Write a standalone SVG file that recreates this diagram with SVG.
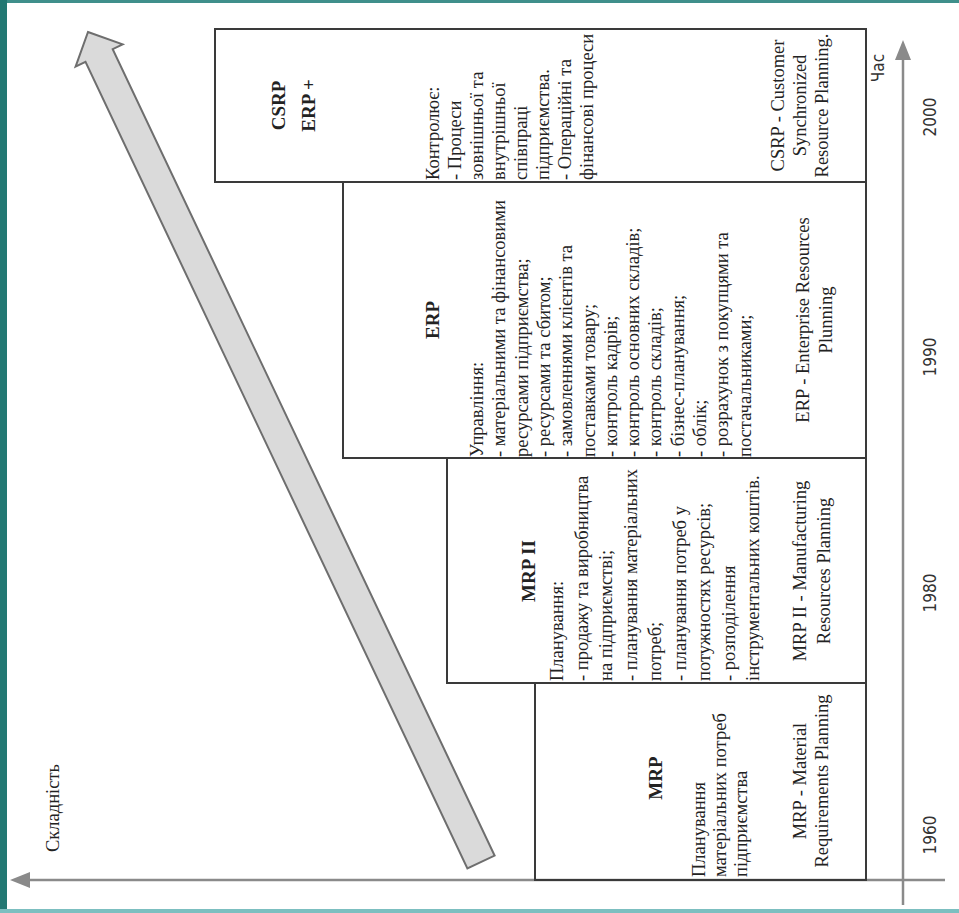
<svg xmlns="http://www.w3.org/2000/svg" width="959" height="913" viewBox="0 0 959 913">
<style>
.t{font-family:"Liberation Serif","Times New Roman",serif;font-size:18.5px;fill:#222}
.b{font-weight:bold;font-size:19px}
.m{text-anchor:middle}
.s{font-family:"Liberation Sans Narrow","DejaVu Sans Condensed","Liberation Sans",sans-serif;font-size:17px;fill:#333}
.box{fill:none;stroke:#3a3a3a;stroke-width:2}
.ax{stroke:#8a8a8a;stroke-width:2.5;fill:none}
.ah{fill:#8a8a8a}
</style>
<rect width="959" height="913" fill="#fff"/>
<rect x="0" y="0" width="959" height="3" fill="#3f8f8b"/>
<rect x="0" y="0" width="7" height="913" fill="#227873"/>
<rect x="0" y="909" width="959" height="4" fill="#7cbfc0"/>

<g id="complexity-arrow">
<polygon points="88,32 122.6,44.4 112.7,49.1 494.6,855.6 467.4,868.4 85.5,61.9 75.6,66.6" fill="#dadada" stroke="#6e6e6e" stroke-width="2" stroke-linejoin="miter"/>
</g>

<g id="connectors">
<line class="ax" x1="903" y1="905" x2="903" y2="56"/>
<polygon class="ah" points="903,40 895,60 911,60"/>
<line class="ax" x1="945" y1="880" x2="26" y2="880"/>
<polygon class="ah" points="10,880 30,872 30,888"/>
</g>

<g id="csrp">
<rect class="box" x="215" y="29" width="651" height="153"/>
<g transform="rotate(-90)">
<text class="t b m" x="-105.5" y="285">CSRP</text>
<text class="t b m" x="-105.5" y="315">ERP +</text>
<text class="t" x="-180" y="439">Контролює:</text>
<text class="t" x="-180" y="461">- Процеси</text>
<text class="t" x="-180" y="483">зовнішньої та</text>
<text class="t" x="-180" y="505">внутрішньої</text>
<text class="t" x="-180" y="527">співпраці</text>
<text class="t" x="-180" y="549">підприємства.</text>
<text class="t" x="-180" y="571">- Операційні та</text>
<text class="t" x="-180" y="593">фінансові процеси</text>
<text class="t m" x="-105.5" y="784">CSRP - Customer</text>
<text class="t m" x="-105.5" y="806">Synchronized</text>
<text class="t m" x="-105.5" y="828">Resource Planning.</text>
</g>
</g>

<g id="erp">
<rect class="box" x="343" y="182" width="523" height="276"/>
<g transform="rotate(-90)">
<text class="t b m" x="-320" y="439">ERP</text>
<text class="t" x="-457" y="483">Управління:</text>
<text class="t" x="-457" y="505.3">- матеріальними та фінансовими</text>
<text class="t" x="-457" y="527.6">ресурсами підприємства;</text>
<text class="t" x="-457" y="549.9">- ресурсами та сбитом;</text>
<text class="t" x="-457" y="572.2">- замовленнями клієнтів та</text>
<text class="t" x="-457" y="594.5">поставками товару;</text>
<text class="t" x="-457" y="616.8">- контроль кадрів;</text>
<text class="t" x="-457" y="639.1">- контроль основних складів;</text>
<text class="t" x="-457" y="661.4">- контроль складів;</text>
<text class="t" x="-457" y="683.7">- бізнес-планування;</text>
<text class="t" x="-457" y="706">- облік;</text>
<text class="t" x="-457" y="728.3">- розрахунок з покупцями та</text>
<text class="t" x="-457" y="750.6">постачальниками;</text>
<text class="t m" x="-320" y="809">ERP - Enterprise Resources</text>
<text class="t m" x="-320" y="832">Plunning</text>
</g>
</g>

<g id="mrp2">
<rect class="box" x="447" y="458" width="419" height="225"/>
<g transform="rotate(-90)">
<text class="t b m" x="-571" y="535">MRP II</text>
<text class="t" x="-681" y="563">Планування:</text>
<text class="t" x="-681" y="587.5">- продажу та виробництва</text>
<text class="t" x="-681" y="612">на підприємстві;</text>
<text class="t" x="-681" y="636.5">- планування матеріальних</text>
<text class="t" x="-681" y="661">потреб;</text>
<text class="t" x="-681" y="685.5">- планування потреб у</text>
<text class="t" x="-681" y="710">потужностях ресурсів;</text>
<text class="t" x="-681" y="734.5">- розподілення</text>
<text class="t" x="-681" y="759">інструментальних коштів.</text>
<text class="t m" x="-571" y="806">MRP II - Manufacturing</text>
<text class="t m" x="-571" y="830">Resources Planning</text>
</g>
</g>

<g id="mrp">
<rect class="box" x="535" y="683" width="331" height="197"/>
<g transform="rotate(-90)">
<text class="t b m" x="-778" y="662">MRP</text>
<text class="t" x="-877" y="705">Планування</text>
<text class="t" x="-877" y="726">матеріальних потреб</text>
<text class="t" x="-877" y="747">підприємства</text>
<text class="t m" x="-781" y="806">MRP - Material</text>
<text class="t m" x="-781" y="828">Requirements Planning</text>
</g>
</g>

<g id="labels" transform="rotate(-90)">
<text class="t m" x="-808" y="59">Складність</text>
<text class="s m" x="-68" y="884">Час</text>
<text class="s m" x="-117" y="936">2000</text>
<text class="s m" x="-357" y="936">1990</text>
<text class="s m" x="-593" y="936">1980</text>
<text class="s m" x="-835" y="936">1960</text>
</g>
</svg>
